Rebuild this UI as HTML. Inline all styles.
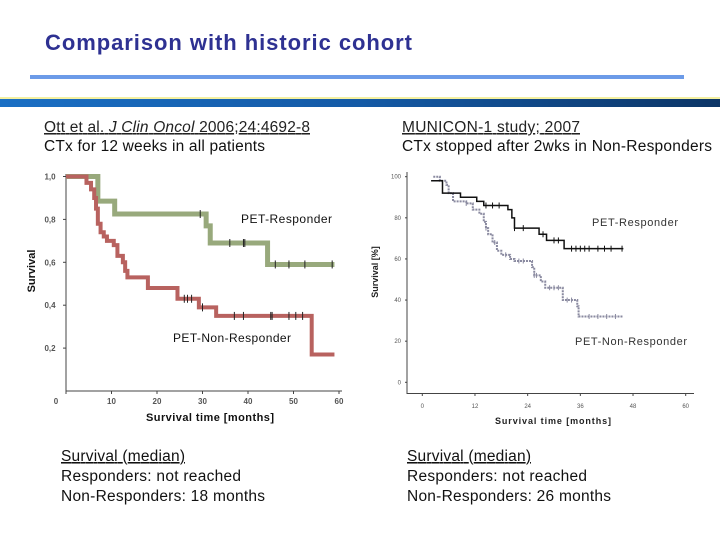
<!DOCTYPE html>
<html><head><meta charset="utf-8"><style>
html,body{margin:0;padding:0;background:#fff;}
svg{display:block;font-family:"Liberation Sans",sans-serif;}
</style></head><body>
<svg id="s" width="720" height="540" viewBox="0 0 720 540" xmlns="http://www.w3.org/2000/svg">
<defs>
<linearGradient id="band" x1="0" x2="1" y1="0" y2="0">
<stop offset="0" stop-color="#1a6fc4"/><stop offset="0.5" stop-color="#145aa6"/><stop offset="1" stop-color="#0c3566"/>
</linearGradient>
</defs>
<text x="45" y="50" font-size="22" font-weight="bold" fill="#2e3192" textLength="367" lengthAdjust="spacing">Comparison with historic cohort</text>
<rect x="30" y="75" width="654" height="4" fill="#6c9be8"/>
<rect x="0" y="97" width="720" height="2" fill="#f4f0a0"/>
<rect x="0" y="99" width="720" height="8" fill="url(#band)"/>

<text x="44" y="132" font-size="15.5" fill="#222" text-decoration="underline" textLength="266" lengthAdjust="spacing">Ott et al. <tspan font-style="italic">J Clin Oncol</tspan> 2006;24:4692-8</text>
<text x="44" y="151" font-size="15.5" fill="#111" textLength="221" lengthAdjust="spacing">CTx for 12 weeks in all patients</text>
<text x="402" y="132" font-size="15.5" fill="#222" text-decoration="underline" textLength="178" lengthAdjust="spacing">MUNICON-1 study; 2007</text>
<text x="402" y="151" font-size="15.5" fill="#111" textLength="310" lengthAdjust="spacing">CTx stopped after 2wks in Non-Responders</text>

<g id="left"></g>
<g id="right"></g>

<text x="61" y="461" font-size="15.5" fill="#111" text-decoration="underline" textLength="124" lengthAdjust="spacing">Survival (median)</text>
<text x="61" y="481" font-size="15.5" fill="#111" textLength="180" lengthAdjust="spacing">Responders: not reached</text>
<text x="61" y="501" font-size="15.5" fill="#111" textLength="204" lengthAdjust="spacing">Non-Responders: 18 months</text>
<text x="407" y="461" font-size="15.5" fill="#111" text-decoration="underline" textLength="124" lengthAdjust="spacing">Survival (median)</text>
<text x="407" y="481" font-size="15.5" fill="#111" textLength="180" lengthAdjust="spacing">Responders: not reached</text>
<text x="407" y="501" font-size="15.5" fill="#111" textLength="204" lengthAdjust="spacing">Non-Responders: 26 months</text>
</svg>
<script>
// ---- Left chart data (months, survival fraction) ----
const leftRespT = [0, 7, 10.7, 30.8, 31.7, 44.3];
const leftRespS = [1.0, 0.885, 0.825, 0.77, 0.69, 0.59];
const leftRespEnd = 59;
const leftRespCens = [29.5, 36, 39, 39.3, 46, 49, 52.5, 58.5];
const leftNonT = [0, 4.5, 5.5, 6.2, 6.6, 7, 7.6, 8.3, 9, 10.5, 11.3, 12.5, 13, 13.5, 18, 24.5, 29.2, 33, 54];
const leftNonS = [1.0, 0.97, 0.94, 0.9, 0.85, 0.78, 0.74, 0.72, 0.70, 0.68, 0.63, 0.60, 0.56, 0.53, 0.48, 0.43, 0.39, 0.35, 0.17];
const leftNonEnd = 59;
const leftNonCens = [26, 26.7, 27.6, 30, 37, 39, 45, 45.3, 49, 50.5, 52];
const leftXTicks = [0, 10, 20, 30, 40, 50, 60];
const leftXLabels = ["0", "10", "20", "30", "40", "50", "60"];
const leftYTicks = [0.2, 0.4, 0.6, 0.8, 1.0];
const leftYLabels = ["0,2", "0,4", "0,6", "0,8", "1,0"];

// ---- Right chart data (months, survival %) ----
const rightRespT = [2, 4.6, 8.7, 12.4, 14, 19.5, 20.4, 21, 26.6, 28.3, 32.3];
const rightRespS = [98, 92, 90, 88, 86, 84, 80, 75, 72, 69, 65];
const rightRespEnd = 45.8;
const rightRespCens = [14.5, 16, 17.5, 21, 23, 27.5, 30, 31, 34, 35, 36, 37, 38, 40, 41.5, 43, 45.5];
const rightNonT = [2.5, 4, 5.5, 6, 7, 10, 11.5, 13, 14, 14.5, 15, 16, 17, 18, 20, 21, 25, 25.5, 27, 28, 32, 35.3, 35.6];
const rightNonS = [100, 98, 96, 92, 88, 87, 84, 82, 78, 75, 72, 68, 64, 62, 60, 59, 56, 52, 49, 46, 40, 37, 32];
const rightNonEnd = 45.6;
const rightNonCens = [10, 14.5, 16.5, 19, 22, 23, 25.5, 26, 29, 30, 31, 33, 34, 38, 40, 42, 44];
const rightXTicks = [0, 12, 24, 36, 48, 60];
const rightXLabels = ["0", "12", "24", "36", "48", "60"];
const rightYTicks = [0, 20, 40, 60, 80, 100];
const rightYLabels = ["0", "20", "40", "60", "80", "100"];

const NS = "http://www.w3.org/2000/svg";
function mk(parent, tag, attrs) {
  const e = document.createElementNS(NS, tag);
  for (const k in attrs) e.setAttribute(k, attrs[k]);
  parent.appendChild(e);
  return e;
}
function stepPath(T, S, end, xf, yf) {
  let d = "M" + xf(T[0]) + "," + yf(S[0]);
  for (let i = 1; i < T.length; i++) d += " H" + xf(T[i]) + " V" + yf(S[i]);
  d += " H" + xf(end);
  return d;
}
function survAt(T, S, t) {
  let s = S[0];
  for (let i = 0; i < T.length; i++) if (T[i] <= t) s = S[i];
  return s;
}

// ---- Left chart ----
const L = document.getElementById("left");
const lx = t => 66 + t * 4.55;
const ly = v => 391 - v * 214.5;
let e;
e = mk(L, "line", {x1: 66, y1: 174, x2: 66, y2: 391, stroke: "#444", "stroke-width": 1});


e = mk(L, "line", {x1: 66, y1: 391, x2: 342, y2: 391, stroke: "#444", "stroke-width": 1});


leftXTicks.forEach((t, i) => {
  mk(L, "line", {x1: lx(t), y1: 391, x2: lx(t), y2: 394, stroke: "#444"});
  e = mk(L, "text", {x: i === 0 ? 56 : lx(t), y: 404, "font-size": 8, "font-weight": "bold", fill: "#555", "text-anchor": "middle"});
  e.textContent = leftXLabels[i];
  
  
});
leftYTicks.forEach((v, i) => {
  mk(L, "line", {x1: 63, y1: ly(v), x2: 66, y2: ly(v), stroke: "#444"});
  e = mk(L, "text", {x: 50, y: ly(v) + 3, "font-size": 8, "font-weight": "bold", fill: "#555", "text-anchor": "middle"});
  e.textContent = leftYLabels[i];
  
  
});
e = mk(L, "path", {d: stepPath(leftRespT, leftRespS, leftRespEnd, lx, ly), fill: "none", stroke: "#98a97c", "stroke-width": 5});


e = mk(L, "path", {d: stepPath(leftNonT, leftNonS, leftNonEnd, lx, ly), fill: "none", stroke: "#b8625f", "stroke-width": 4});


leftRespCens.forEach(t => {
  const y = ly(survAt(leftRespT, leftRespS, t));
  e = mk(L, "line", {x1: lx(t), y1: y - 4, x2: lx(t), y2: y + 4, stroke: "#222", "stroke-width": 1});
  
  
});
leftNonCens.forEach(t => {
  const y = ly(survAt(leftNonT, leftNonS, t));
  e = mk(L, "line", {x1: lx(t), y1: y - 4, x2: lx(t), y2: y + 4, stroke: "#222", "stroke-width": 1});
  
  
});
e = mk(L, "text", {x: 241, y: 223, "font-size": 12, fill: "#111", textLength: 91, lengthAdjust: "spacing"});
e.textContent = "PET-Responder";


e = mk(L, "text", {x: 173, y: 342, "font-size": 12, fill: "#111", textLength: 118, lengthAdjust: "spacing"});
e.textContent = "PET-Non-Responder";


e = mk(L, "text", {x: 146, y: 421, "font-size": 11, "font-weight": "bold", fill: "#111", textLength: 128, lengthAdjust: "spacing"});
e.textContent = "Survival time [months]";


e = mk(L, "text", {x: 0, y: 0, "font-size": 11, "font-weight": "bold", fill: "#111", "text-anchor": "middle", transform: "translate(35,271) rotate(-90)"});
e.textContent = "Survival";



// ---- Right chart ----
const R = document.getElementById("right");
const rx = t => 422.3 + t * 4.39;
const ry = v => 382.3 - v * 2.056;
e = mk(R, "line", {x1: 407, y1: 172, x2: 407, y2: 394, stroke: "#444", "stroke-width": 1});


e = mk(R, "line", {x1: 407, y1: 393.5, x2: 694, y2: 393.5, stroke: "#444", "stroke-width": 1});


rightXTicks.forEach((t, i) => {
  mk(R, "line", {x1: rx(t), y1: 393.5, x2: rx(t), y2: 396, stroke: "#444"});
  e = mk(R, "text", {x: rx(t), y: 408, "font-size": 6, fill: "#555", "text-anchor": "middle"});
  e.textContent = rightXLabels[i];
  
  
});
rightYTicks.forEach((v, i) => {
  mk(R, "line", {x1: 405, y1: ry(v), x2: 407, y2: ry(v), stroke: "#444"});
  e = mk(R, "text", {x: 401, y: ry(v) + 2, "font-size": 6, fill: "#555", "text-anchor": "end"});
  e.textContent = rightYLabels[i];
  
  
});
e = mk(R, "path", {d: stepPath(rightNonT, rightNonS, rightNonEnd, rx, ry), fill: "none", stroke: "#8a8aa0", "stroke-width": 2, "stroke-dasharray": "2,1"});


e = mk(R, "path", {d: stepPath(rightRespT, rightRespS, rightRespEnd, rx, ry), fill: "none", stroke: "#111", "stroke-width": 1.5});


rightRespCens.forEach(t => {
  const y = ry(survAt(rightRespT, rightRespS, t));
  e = mk(R, "line", {x1: rx(t), y1: y - 3, x2: rx(t), y2: y + 3, stroke: "#111", "stroke-width": 1});
  
  
});
rightNonCens.forEach(t => {
  const y = ry(survAt(rightNonT, rightNonS, t));
  e = mk(R, "line", {x1: rx(t), y1: y - 2.5, x2: rx(t), y2: y + 2.5, stroke: "#8a8aa0", "stroke-width": 1});
  
  
});
e = mk(R, "text", {x: 592, y: 226, "font-size": 11, fill: "#333", textLength: 86, lengthAdjust: "spacing"});
e.textContent = "PET-Responder";


e = mk(R, "text", {x: 575, y: 345, "font-size": 11, fill: "#333", textLength: 112, lengthAdjust: "spacing"});
e.textContent = "PET-Non-Responder";


e = mk(R, "text", {x: 495, y: 424, "font-size": 9, "font-weight": "bold", fill: "#222", textLength: 116, lengthAdjust: "spacing"});
e.textContent = "Survival time [months]";


e = mk(R, "text", {x: 0, y: 0, "font-size": 9, "font-weight": "bold", fill: "#222", "text-anchor": "middle", transform: "translate(378,272) rotate(-90)"});
e.textContent = "Survival [%]";


</script>
</body></html>
